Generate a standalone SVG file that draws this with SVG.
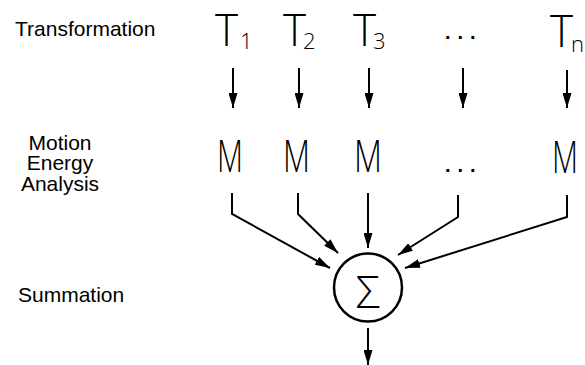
<svg xmlns="http://www.w3.org/2000/svg" width="585" height="365" viewBox="0 0 585 365">
  <defs>
    <marker id="arrow" markerUnits="userSpaceOnUse" markerWidth="15" markerHeight="9" refX="15" refY="4.5" orient="auto">
      <path d="M0,0 L15,4.5 L0,9 z" fill="#000"/>
    </marker>
    <style>
      .label { font-family: "Liberation Sans", Arial, sans-serif; font-size: 21px; fill: #000; }
      .big { font-family: "Open Sans", "DejaVu Sans", sans-serif; font-weight: 300; font-size: 44px; fill: #000; }
      .sub { font-size: 22px; }
      .dots { font-family: "Liberation Sans", Arial, sans-serif; font-weight: bold; font-size: 20px; letter-spacing: 7px; fill: #000; }
      .conn { fill: none; stroke: #000; stroke-width: 2; marker-end: url(#arrow); }
    </style>
  </defs>
  <rect width="585" height="365" fill="#fff"/>

  <g opacity="0.999">
  <!-- row labels -->
  <g id="row-labels">
    <text class="label" x="15" y="36">Transformation</text>
    <text class="label" x="60" y="150" text-anchor="middle" font-size="20">Motion</text>
    <text class="label" x="60" y="170" text-anchor="middle" font-size="20">Energy</text>
    <text class="label" x="60" y="191" text-anchor="middle" font-size="20">Analysis</text>
    <text class="label" x="18" y="302">Summation</text>
  </g>

  <!-- transformations -->
  <g id="t1"><text class="big" x="215" y="46">T<tspan class="sub" x="240" dy="3">1</tspan></text></g>
  <g id="t2"><text class="big" x="283" y="46">T<tspan class="sub" x="303" dy="3">2</tspan></text></g>
  <g id="t3"><text class="big" x="353" y="46">T<tspan class="sub" x="373" dy="3">3</tspan></text></g>
  <g id="t-dots"><text class="dots" x="445" y="39">...</text></g>
  <g id="tn"><text class="big" x="550" y="47">T<tspan class="sub" x="571" dy="5">n</tspan></text></g>

  <!-- motion energy units -->
  <g id="m1"><text class="big" x="217" y="172" textLength="26" lengthAdjust="spacingAndGlyphs">M</text></g>
  <g id="m2"><text class="big" x="283" y="172" textLength="27" lengthAdjust="spacingAndGlyphs">M</text></g>
  <g id="m3"><text class="big" x="354" y="172" textLength="28" lengthAdjust="spacingAndGlyphs">M</text></g>
  <g id="m-dots"><text class="dots" x="445" y="172">...</text></g>
  <g id="mn"><text class="big" x="552" y="173" textLength="26" lengthAdjust="spacingAndGlyphs">M</text></g>

  <!-- summation node -->
  <g id="sum">
    <circle cx="368" cy="287.5" r="34" fill="none" stroke="#000" stroke-width="2.5"/>
    <text class="big" x="368" y="308" text-anchor="middle" font-size="57">Σ</text>
  </g>

  <!-- connectors -->
  <g id="connectors">
    <path class="conn" d="M233,68 V108"/>
    <path class="conn" d="M299,68 V108"/>
    <path class="conn" d="M369,68 V108"/>
    <path class="conn" d="M463,68 V108"/>
    <path class="conn" d="M567,70 V108"/>
    <path class="conn" d="M232,193 V214 L330,268"/>
    <path class="conn" d="M298,193 V214 L338,253"/>
    <path class="conn" d="M368,193 V248"/>
    <path class="conn" d="M458,195 V217 L398,255"/>
    <path class="conn" d="M567,195 V217 L405,268"/>
    <path class="conn" d="M368,328 V365"/>
  </g>
  </g>
</svg>
